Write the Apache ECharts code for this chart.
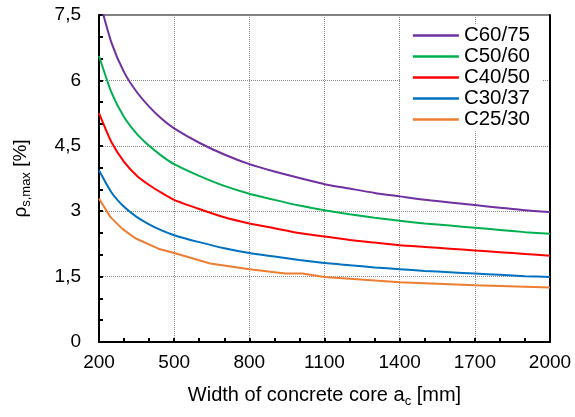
<!DOCTYPE html>
<html><head><meta charset="utf-8">
<script src="https://cdn.jsdelivr.net/npm/echarts@6/dist/echarts.min.js"></script>
<style>html,body{margin:0;padding:0;background:#fff}#c{width:575px;height:417px}</style>
</head><body><div id="c"></div>
<script>
// Width of concrete core a_c [mm]
const widths = [200,250,300,350,400,450,500,600,700,800,900,1000,1100,1200,1300,1400,1500,1600,1700,1800,1900,2000];
const c60_75 = [7.87,6.86,6.19,5.74,5.40,5.12,4.90,4.57,4.30,4.08,3.91,3.76,3.62,3.52,3.42,3.34,3.26,3.20,3.14,3.08,3.02,2.98];
const c50_60 = [6.56,5.72,5.16,4.78,4.50,4.27,4.08,3.81,3.58,3.40,3.26,3.13,3.02,2.93,2.85,2.78,2.72,2.67,2.62,2.57,2.52,2.48];
const c40_50 = [5.25,4.58,4.13,3.82,3.60,3.42,3.26,3.05,2.86,2.72,2.61,2.50,2.42,2.34,2.28,2.22,2.18,2.14,2.10,2.06,2.02,1.98];
const c30_37 = [3.94,3.43,3.10,2.87,2.70,2.56,2.45,2.29,2.15,2.04,1.96,1.88,1.81,1.76,1.71,1.67,1.63,1.60,1.57,1.54,1.51,1.49];
const c25_30_widths = [200,245,292,345,437,500,644,800,944,1011,1100,1400,1700,2000];
const c25_30 = [3.29,2.87,2.60,2.38,2.14,2.04,1.80,1.67,1.57,1.57,1.49,1.37,1.30,1.25];
const seriesNames = ['C60/75','C50/60','C40/50','C30/37','C25/30'];
const colors = ['#7030A0','#00B050','#FF0000','#0070C0','#ED7D31'];

const pair = (xs, ys) => xs.map((x, i) => [x, ys[i]]);
const datasets = [
  pair(widths, c60_75),
  pair(widths, c50_60),
  pair(widths, c40_50),
  pair(widths, c30_37),
  pair(c25_30_widths, c25_30)
];
const FONT = 'Liberation Sans, Arial, sans-serif';

const chart = echarts.init(document.getElementById('c'), null, {renderer: 'canvas'});
chart.setOption({
  animation: false,
  backgroundColor: '#fff',
  color: colors,
  textStyle: {fontFamily: FONT, color: '#000'},
  grid: {left: 99, right: 25, top: 15, bottom: 75, show: true, borderColor: '#000', borderWidth: 1, backgroundColor: 'transparent'},
  legend: {
    orient: 'vertical', right: 33, top: 24,
    backgroundColor: '#fff', padding: [1, 12, 1, 12],
    icon: 'rect', itemWidth: 46, itemHeight: 2.5, itemGap: 0,
    textStyle: {fontSize: 20.5, lineHeight: 20.4, color: '#000', fontFamily: FONT},
    data: seriesNames
  },
  xAxis: {
    type: 'value', min: 200, max: 2000, interval: 300,
    name: 'Width of concrete core a{s|c} [mm]', nameLocation: 'middle', nameGap: 40,
    nameTextStyle: {fontSize: 20, color: '#000', fontFamily: FONT, lineHeight: 26,
      rich: {s: {fontSize: 13, lineHeight: 12, verticalAlign: 'bottom', fontFamily: FONT, color: '#000'}}},
    axisLine: {show: true, lineStyle: {color: '#000', width: 2}},
    axisTick: {show: true, inside: true, length: 4, lineStyle: {color: '#000', width: 2}},
    minorTick: {show: true, splitNumber: 3, length: 4, lineStyle: {color: '#000', width: 2}},
    axisLabel: {fontSize: 19, color: '#000', margin: 11, fontFamily: FONT, formatter: v => String(v)},
    splitLine: {show: true, lineStyle: {color: '#888', type: 'dotted', width: 1}}
  },
  yAxis: [{
    type: 'value', min: 0, max: 7.5, interval: 1.5,
    name: 'ρ{s|s,max} [%]', nameLocation: 'middle', nameGap: 66,
    nameTextStyle: {fontSize: 19, color: '#000', fontFamily: FONT, lineHeight: 24,
      rich: {s: {fontSize: 13, lineHeight: 12, verticalAlign: 'bottom', fontFamily: FONT, color: '#000'}}},
    axisLine: {show: true, lineStyle: {color: '#000', width: 2}},
    axisTick: {show: true, inside: true, length: 4, lineStyle: {color: '#000', width: 2}},
    minorTick: {show: true, splitNumber: 3, length: 4, lineStyle: {color: '#000', width: 2}},
    axisLabel: {fontSize: 19, color: '#000', margin: 18, fontFamily: FONT,
      formatter: v => String(v).replace('.', ',')},
    splitLine: {show: true, lineStyle: {color: '#888', type: 'dotted', width: 1}}
  }, {
    type: 'value', min: 0, max: 7.5, position: 'right',
    axisLine: {show: true, onZero: false, lineStyle: {color: '#000', width: 2}},
    axisTick: {show: false}, axisLabel: {show: false}, splitLine: {show: false}
  }],
  series: datasets.map((d, i) => ({
    name: seriesNames[i], type: 'line', data: d,
    symbol: 'none', showSymbol: false,
    smooth: i < 4 ? 0.2 : false,
    lineStyle: {width: 2, color: colors[i]},
    z: 10 - i
  }))
});
</script></body></html>
